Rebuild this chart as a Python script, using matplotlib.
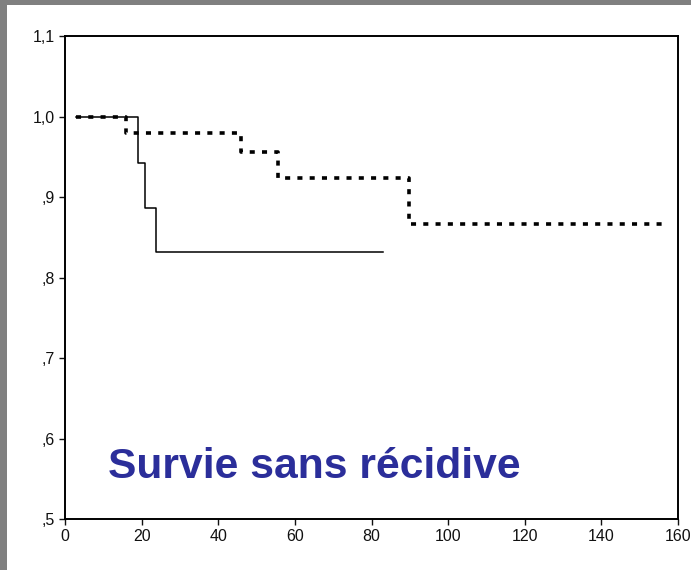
import matplotlib
matplotlib.use("Agg")
import matplotlib.pyplot as plt
from matplotlib.patches import Rectangle

plt.rcParams["font.family"] = ["Liberation Sans", "DejaVu Sans"]

# survival steps (time in months, proportion)
solid_t = [3, 19, 19, 21, 21, 23.7, 23.7, 83]
solid_s = [1.0, 1.0, 0.942, 0.942, 0.886, 0.886, 0.832, 0.832]

dotted_t = [3, 16, 16, 46, 46, 55.7, 55.7, 89.8, 89.8, 156]
dotted_s = [1.0, 1.0, 0.979, 0.979, 0.956, 0.956, 0.924, 0.924, 0.866, 0.866]

x_ticks = [0, 20, 40, 60, 80, 100, 120, 140, 160]
y_ticks = [0.5, 0.6, 0.7, 0.8, 0.9, 1.0, 1.1]
y_labels = [",5", ",6", ",7", ",8", ",9", "1,0", "1,1"]

fig = plt.figure(figsize=(6.91, 5.70), dpi=100)
fig.patch.set_facecolor("white")
gray = "#808080"
fig.add_artist(Rectangle((0, 1 - 5 / 570), 1, 5 / 570, transform=fig.transFigure,
                         facecolor=gray, edgecolor="none"))
fig.add_artist(Rectangle((0, 0), 7 / 691, 1, transform=fig.transFigure,
                         facecolor=gray, edgecolor="none"))

ax = fig.add_axes([65 / 691, 1 - 519 / 570, 613 / 691, 483 / 570])
ax.plot(solid_t, solid_s, color="black", lw=1.1)
ax.plot(dotted_t, dotted_s, color="black", lw=2.6, linestyle=(0, (1.4, 2.0)),
        dash_capstyle="butt")

ax.set_xlim(0, 160)
ax.set_ylim(0.5, 1.1)
ax.set_xticks(x_ticks)
ax.set_yticks(y_ticks)
ax.set_yticklabels(y_labels)
ax.tick_params(direction="out", length=4, width=1, labelsize=11.5, colors="#111111")
for sp in ax.spines.values():
    sp.set_linewidth(1.4)
    sp.set_color("black")

fig.text(108 / 691, 1 - 467 / 570, "Survie sans récidive", fontsize=30.7,
         fontweight="bold", color="#2B2E9A", va="center", ha="left")

fig.savefig("out.png", dpi=100)
